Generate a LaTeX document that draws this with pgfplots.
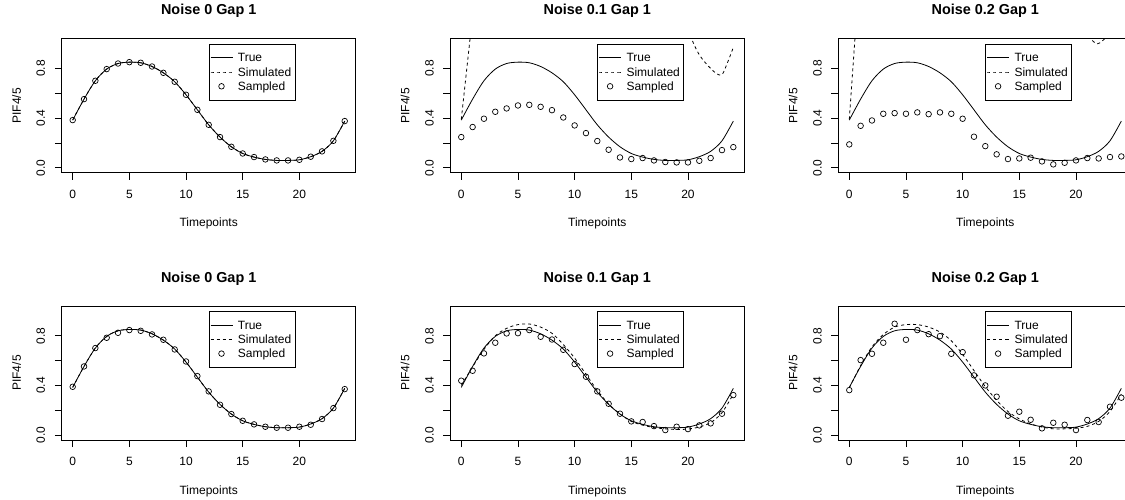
\documentclass[border=0pt]{standalone}
\usepackage{fontspec}
\setmainfont{Liberation Sans}
\usepackage{pgfplots}
\usepackage{pgfplotstable}
\pgfplotsset{compat=1.18}

% t, true curve, sampled points of the three top panels
\pgfplotstableread{
t true s1 s2 s3
0 0.384 0.384 0.247 0.188
1 0.553 0.553 0.328 0.338
2 0.701 0.701 0.395 0.381
3 0.795 0.795 0.451 0.435
4 0.840 0.840 0.478 0.440
5 0.851 0.851 0.502 0.435
6 0.846 0.846 0.507 0.446
7 0.816 0.816 0.491 0.432
8 0.765 0.765 0.464 0.446
9 0.693 0.693 0.405 0.435
10 0.588 0.588 0.341 0.395
11 0.467 0.467 0.279 0.250
12 0.346 0.346 0.215 0.174
13 0.247 0.247 0.145 0.108
14 0.169 0.169 0.083 0.070
15 0.115 0.115 0.070 0.075
16 0.086 0.086 0.078 0.081
17 0.067 0.067 0.059 0.051
18 0.059 0.059 0.046 0.027
19 0.059 0.059 0.043 0.040
20 0.064 0.064 0.043 0.059
21 0.089 0.089 0.056 0.078
22 0.132 0.132 0.078 0.075
23 0.217 0.217 0.142 0.086
24 0.376 0.376 0.166 0.091
}\toptable

% bottom panels: sampled points and simulated curves
\pgfplotstableread{
t s1 s2 s3 m2 m3
0 0.389 0.438 0.362 0.40 0.38
1 0.553 0.518 0.604 0.55 0.56
2 0.701 0.658 0.655 0.69 0.71
3 0.784 0.744 0.744 0.80 0.81
4 0.824 0.819 0.897 0.86 0.87
5 0.846 0.821 0.768 0.89 0.89
6 0.840 0.846 0.846 0.895 0.89
7 0.811 0.792 0.813 0.87 0.87
8 0.768 0.770 0.797 0.82 0.83
9 0.690 0.687 0.655 0.73 0.76
10 0.593 0.572 0.668 0.62 0.65
11 0.475 0.470 0.481 0.49 0.52
12 0.352 0.352 0.400 0.36 0.39
13 0.244 0.252 0.309 0.25 0.28
14 0.169 0.172 0.156 0.17 0.19
15 0.115 0.110 0.188 0.11 0.13
16 0.086 0.105 0.123 0.08 0.09
17 0.067 0.072 0.054 0.06 0.065
18 0.059 0.040 0.099 0.05 0.05
19 0.059 0.067 0.083 0.045 0.05
20 0.067 0.048 0.040 0.048 0.055
21 0.083 0.078 0.121 0.065 0.07
22 0.129 0.094 0.105 0.10 0.11
23 0.217 0.172 0.228 0.18 0.19
24 0.370 0.322 0.301 0.33 0.33
}\bottable

\pgfplotsset{
  rpanel/.style={
    scale only axis, width=293.8pt, height=134pt,
    xmin=-0.96, xmax=24.96, ymin=-0.04, ymax=1.04,
    xtick={0,5,10,15,20},
    ytick={0,0.2,0.4,0.6,0.8}, yticklabels={0.0,,0.4,,0.8},
    tick pos=left, tick align=outside, major tick length=7pt,
    tick style={black, line width=0.8pt},
    axis line style={black, line width=0.8pt},
    /pgf/number format/assume math mode=true,
    every tick label/.append style={font=\fontsize{12}{14}\selectfont},
    xticklabel style={anchor=base, yshift=-18.6pt},
    yticklabel style={xshift=-9.8pt, rotate=90, anchor=base},
    every axis title/.style={at={(0.5,1)}, anchor=base, yshift=24pt,
      font=\bfseries\fontsize{14.4}{17}\selectfont},
    every axis x label/.style={at={(axis description cs:0.5,0)}, anchor=base,
      yshift=-54pt, font=\fontsize{12}{14}\selectfont},
    every axis y label/.style={at={(axis description cs:0,0.5)}, xshift=-41pt,
      rotate=90, anchor=base, font=\fontsize{12}{14}\selectfont},
    xlabel={Timepoints}, ylabel={PIF4/5},
    legend style={at={(0.5,0.963)}, anchor=north west, draw=black,
      line width=0.8pt, fill=white, font=\fontsize{12}{14}\selectfont,
      inner xsep=1pt, inner ysep=6.5pt, column sep=2pt, row sep=0pt,
      nodes={inner xsep=3pt, inner ysep=1.15pt, text height=10pt, text depth=2pt}},
    legend cell align=left,
    legend image code/.code={\draw[mark repeat=2,mark phase=2,#1]
      plot coordinates {(0pt,0pt) (11pt,0pt) (22pt,0pt)};},
  },
  truel/.style={black, line width=0.8pt, smooth},
  siml/.style={black, line width=0.8pt, smooth, dash pattern=on 3pt off 3pt},
  samp/.style={only marks, mark=o, mark size=2.8pt, black,
    mark options={line width=0.7pt}},
}

\begin{document}
\begin{tikzpicture}
% top row
\begin{axis}[rpanel, at={(61.8pt,326.3pt)}, anchor=south west, title={Noise 0 Gap 1}]
\addplot[truel] table[x=t, y=true] {\toptable};
\addplot[siml] table[x=t, y=true] {\toptable};
\addplot[samp] table[x=t, y=s1] {\toptable};
\legend{True,Simulated,Sampled}
\end{axis}

\begin{axis}[rpanel, at={(450.4pt,326.3pt)}, anchor=south west, title={Noise 0.1 Gap 1}]
\addplot[truel] table[x=t, y=true] {\toptable};
\addplot[siml] coordinates {(0,0.39) (0.5,0.81) (1,1.23) (1.5,1.65)};
\addplot[samp] table[x=t, y=s2] {\toptable};
\addplot[siml, forget plot] coordinates {(19.5,1.3) (20,1.12) (20.5,1.0) (21,0.91) (21.5,0.85)
  (22,0.80) (22.5,0.76) (23,0.75) (23.5,0.85) (24,0.97)};
\legend{True,Simulated,Sampled}
\end{axis}

\begin{axis}[rpanel, at={(838.4pt,326.3pt)}, anchor=south west, title={Noise 0.2 Gap 1}]
\addplot[truel] table[x=t, y=true] {\toptable};
\addplot[siml] coordinates {(0,0.39) (0.5,1.04) (1,1.7)};
\addplot[samp] table[x=t, y=s3] {\toptable};
\addplot[siml, forget plot] coordinates {(20.5,1.3) (21,1.1) (21.5,1.02) (21.9,1.0)
  (22.3,1.02) (22.8,1.08) (23.5,1.3)};
\legend{True,Simulated,Sampled}
\end{axis}

% bottom row
\begin{axis}[rpanel, at={(61.8pt,59pt)}, anchor=south west, title={Noise 0 Gap 1}]
\addplot[truel] table[x=t, y=true] {\toptable};
\addplot[siml] table[x=t, y=true] {\toptable};
\addplot[samp] table[x=t, y=s1] {\bottable};
\legend{True,Simulated,Sampled}
\end{axis}

\begin{axis}[rpanel, at={(450.4pt,59pt)}, anchor=south west, title={Noise 0.1 Gap 1}]
\addplot[truel] table[x=t, y=true] {\toptable};
\addplot[siml] table[x=t, y=m2] {\bottable};
\addplot[samp] table[x=t, y=s2] {\bottable};
\legend{True,Simulated,Sampled}
\end{axis}

\begin{axis}[rpanel, at={(838.4pt,59pt)}, anchor=south west, title={Noise 0.2 Gap 1}]
\addplot[truel] table[x=t, y=true] {\toptable};
\addplot[siml] table[x=t, y=m3] {\bottable};
\addplot[samp] table[x=t, y=s3] {\bottable};
\legend{True,Simulated,Sampled}
\end{axis}

\pgfresetboundingbox
\path[use as bounding box] (0,0) rectangle (1125pt,499pt);
\end{tikzpicture}
\end{document}
